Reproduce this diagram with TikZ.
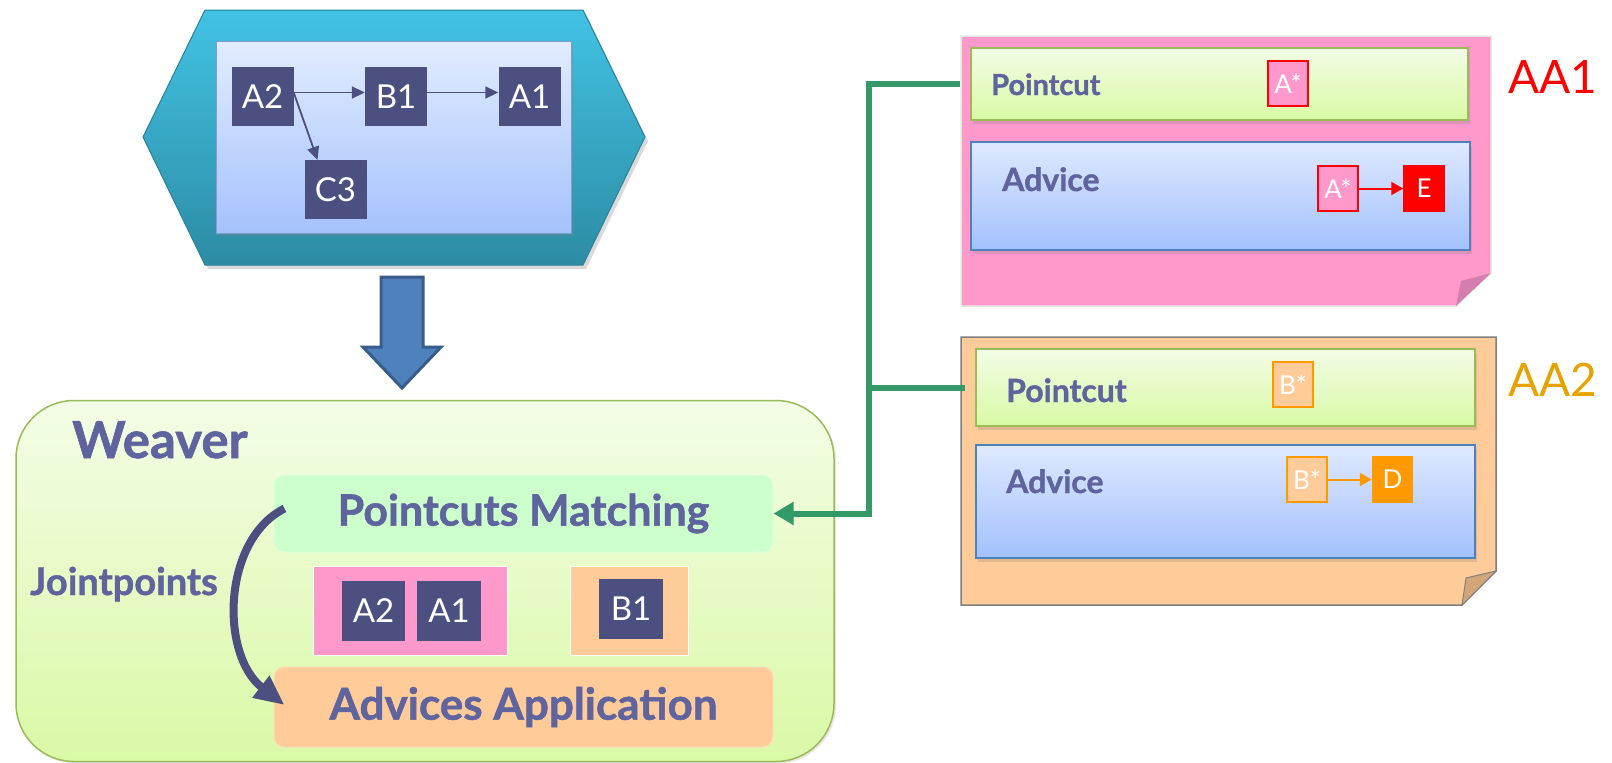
\documentclass[tikz,border=0pt]{standalone}
\usepackage{fontspec}
\setmainfont{Lato}
\newfontfamily\heavy{Lato}[BoldFeatures={FakeBold=1.2}]
\usetikzlibrary{arrows.meta,shadows,calc}
\definecolor{txt}{HTML}{5F639E}
\definecolor{dk}{HTML}{4B5081}
\definecolor{gline}{HTML}{339966}
\definecolor{pinkf}{HTML}{FF99CC}
\definecolor{peach}{HTML}{FFCC99}
\definecolor{orng}{HTML}{FF9900}
\definecolor{gold}{HTML}{E8A200}
\definecolor{pcgreen}{HTML}{9BBB59}
\definecolor{advblue}{HTML}{4F81BD}
\definecolor{arrdk}{HTML}{385D8A}
\definecolor{pctop}{HTML}{F2FCE6}
\definecolor{pcbot}{HTML}{D9F9A5}
\definecolor{adtop}{HTML}{DFE9FF}
\definecolor{adbot}{HTML}{A2C1FD}
\definecolor{hextop}{HTML}{42C2E4}
\definecolor{hexbot}{HTML}{2C8CA4}
\definecolor{hexedge}{HTML}{28829B}
\definecolor{progedge}{HTML}{7F9ED3}
\definecolor{progtop}{HTML}{E2ECFF}
\definecolor{progbot}{HTML}{A4C2FC}
\definecolor{wvtop}{HTML}{F3FDE6}
\definecolor{wvbot}{HTML}{DAF9A6}
\definecolor{pmfill}{HTML}{CCFFCC}
\definecolor{pmedge}{HTML}{DCFFDC}
\definecolor{aaedge}{HTML}{FFDCB9}
\definecolor{n1edge}{HTML}{E8E8E0}
\definecolor{n1fold}{HTML}{D37EAF}
\definecolor{n2edge}{HTML}{7F7F7F}
\definecolor{n2fold}{HTML}{D2A679}
\begin{document}
\begin{tikzpicture}[x=1pt,y=-1pt,
  darkbox/.style={fill=dk,text=white,minimum width=62pt,minimum height=59pt,inner sep=0pt,font=\fontsize{33}{36}\selectfont},
  smallbox/.style={minimum width=40pt,minimum height=45pt,inner sep=0pt,text=white,line width=1.5pt,font=\fontsize{26}{28}\selectfont},
  pcbox/.style={draw=pcgreen,line width=1.5pt,top color=pctop,bottom color=pcbot,inner sep=0pt,drop shadow={opacity=0.25,shadow xshift=2pt,shadow yshift=-4pt}},
  advbox/.style={draw=advblue,line width=1.5pt,top color=adtop,bottom color=adbot,inner sep=0pt,drop shadow={opacity=0.25,shadow xshift=2pt,shadow yshift=-4pt}},
  lbl/.style={text=txt,inner sep=0pt},
  arr/.style={draw=dk,line width=1.8pt,-{Triangle[length=13pt,width=12pt]}},
]
\useasboundingbox (0,0) rectangle (1612,763);
% ---------- top hexagon ----------
\path[top color=hextop,bottom color=hexbot,draw=hexedge,line width=1pt,drop shadow={opacity=0.3,shadow xshift=3pt,shadow yshift=-4pt}]
  (143,137) -- (205,10) -- (583,10) -- (645,137) -- (583,265) -- (205,265) -- cycle;
\node[draw=progedge,line width=1pt,top color=progtop,bottom color=progbot,minimum width=355pt,minimum height=192pt,inner sep=0pt,drop shadow={opacity=0.3,shadow xshift=2pt,shadow yshift=-3pt}] (prog) at (393.5,137) {};
\node[darkbox] (a2) at (262.5,96.5) {A2};
\node[darkbox] (b1) at (396,96.5) {B1};
\node[darkbox] (a1) at (529.5,96.5) {A1};
\node[darkbox] (c3) at (335.5,189.5) {C3};
\draw[arr] ([yshift=4pt]a2.east) -- ([yshift=4pt]b1.west);
\draw[arr] ([yshift=4pt]b1.east) -- ([yshift=4pt]a1.west);
\draw[arr] ([yshift=4pt]a2.east) -- ([xshift=-18pt]c3.north);
% ---------- big arrow ----------
\path[fill=advblue,draw=arrdk,line width=3pt,line join=miter]
  (381,277) -- (423,277) -- (423,347) -- (441,347) -- (402,388) -- (363,347) -- (381,347) -- cycle;
% ---------- weaver ----------
\node[draw=pcgreen,line width=1.5pt,rounded corners=58pt,top color=wvtop,bottom color=wvbot,minimum width=818pt,minimum height=361pt,inner sep=0pt,drop shadow={opacity=0.2,shadow xshift=2pt,shadow yshift=-2pt}] (weaver) at (425,581) {};
\node[text=txt,font=\heavy\bfseries\fontsize{51}{54}\selectfont,anchor=base west,inner sep=0pt] (wlbl) at (72,458) {Weaver};
\node[fill=pmfill,draw=pmedge,line width=1pt,rounded corners=10pt,minimum width=499pt,minimum height=77pt,inner sep=0pt,text=txt,font=\heavy\bfseries\fontsize{43}{46}\selectfont] (pm) at (523.5,513.5) {Pointcuts Matching};
\node[fill=peach,draw=aaedge,line width=1pt,rounded corners=10pt,minimum width=499pt,minimum height=80pt,inner sep=0pt,text=txt,font=\heavy\bfseries\fontsize{44}{47}\selectfont] (aa) at (523.5,707) {Advices Application};
\node[fill=pinkf,draw=white,line width=1pt,minimum width=194pt,minimum height=89pt,inner sep=0pt] (jp1) at (410,610.5) {};
\node[fill=peach,draw=white,line width=1pt,minimum width=118pt,minimum height=89pt,inner sep=0pt] (jp2) at (629,610.5) {};
\node[darkbox,minimum width=63pt,minimum height=60pt] (wa2) at (373.5,611) {A2};
\node[darkbox,minimum width=64pt,minimum height=60pt] (wa1) at (449,611) {A1};
\node[darkbox,minimum width=64pt,minimum height=60pt] (wb1) at (631,609) {B1};
\node[text=txt,font=\heavy\bfseries\fontsize{38}{40}\selectfont,anchor=base west,inner sep=0pt] (jlbl) at (30,595) {Jointpoints};
\coordinate (js) at ($(pm.west)+(11,-5)$);
\coordinate (je) at ($(aa.west)+(11,-2)$);
\draw[draw=dk,line width=8pt,-{Triangle[length=30pt,width=26pt]}] (js) .. controls (222,540) and (220,655) .. (je);
% ---------- note AA1 ----------
\path[fill=pinkf,draw=n1edge,line width=1.5pt]
  (961,36) -- (1491,36) -- (1491,273) -- (1456,306) -- (961,306) -- cycle;
\path[fill=n1fold] (1491,273) -- (1461,281) -- (1456,306) -- cycle;
\node[pcbox,minimum width=497pt,minimum height=72pt] (pc1) at (1219.5,84) {};
\node[lbl,anchor=base west,font=\heavy\bfseries\fontsize{29}{31}\selectfont] (pc1l) at (991,95) {Pointcut};
\node[advbox,minimum width=499pt,minimum height=108pt] (ad1) at (1220.5,196) {};
\node[lbl,anchor=base west,font=\heavy\bfseries\fontsize{32}{34}\selectfont] (ad1l) at (1002,191) {Advice};
\node[smallbox,fill=pinkf,draw=red] (as1) at (1288,83.5) {A*};
\node[smallbox,fill=pinkf,draw=red] (as2) at (1338,188.5) {A*};
\node[smallbox,fill=red,draw=red] (ee) at (1424,188.5) {E};
\draw[red,line width=2pt,-{Triangle[length=12pt,width=13pt]}] (as2.east) -- (ee.west);
\node[text=red,font=\fontsize{46}{48}\selectfont,anchor=base west,inner sep=0pt] (aa1) at (1508,93) {AA1};
% ---------- note AA2 ----------
\path[fill=peach,draw=n2edge,line width=1.5pt]
  (961,337) -- (1496,337) -- (1496,571) -- (1462,605) -- (961,605) -- cycle;
\path[fill=n2fold,draw=n2edge,line width=1pt] (1496,571) -- (1466,578) -- (1462,605) -- cycle;
\node[pcbox,minimum width=499pt,minimum height=77pt] (pc2) at (1225.5,387.5) {};
\node[lbl,anchor=base west,font=\heavy\bfseries\fontsize{32}{34}\selectfont] (pc2l) at (1006,402) {Pointcut};
\node[advbox,minimum width=499pt,minimum height=113pt] (ad2) at (1225.5,501.5) {};
\node[lbl,anchor=base west,font=\heavy\bfseries\fontsize{32}{34}\selectfont] (ad2l) at (1006,493) {Advice};
\node[smallbox,fill=peach,draw=orng] (bs1) at (1293,384.5) {B*};
\node[smallbox,fill=peach,draw=orng] (bs2) at (1307,479.5) {B*};
\node[smallbox,fill=orng,draw=orng] (dd) at (1392.5,479.5) {D};
\draw[orng,line width=2pt,-{Triangle[length=12pt,width=13pt]}] (bs2.east) -- (dd.west);
\node[text=gold,font=\fontsize{46}{48}\selectfont,anchor=base west,inner sep=0pt] (aa2) at (1508,396) {AA2};
% ---------- green connector ----------
\coordinate (bus) at (869,300);
\draw[gline,line width=6pt,line join=miter,-{Triangle[length=20pt,width=22pt]}] ([xshift=-10pt]pc1.west) -| (bus) |- (pm.east);
\draw[gline,line width=6pt] ([xshift=-10pt]pc2.west) -- (pc2.west -| bus);
\end{tikzpicture}
\end{document}
